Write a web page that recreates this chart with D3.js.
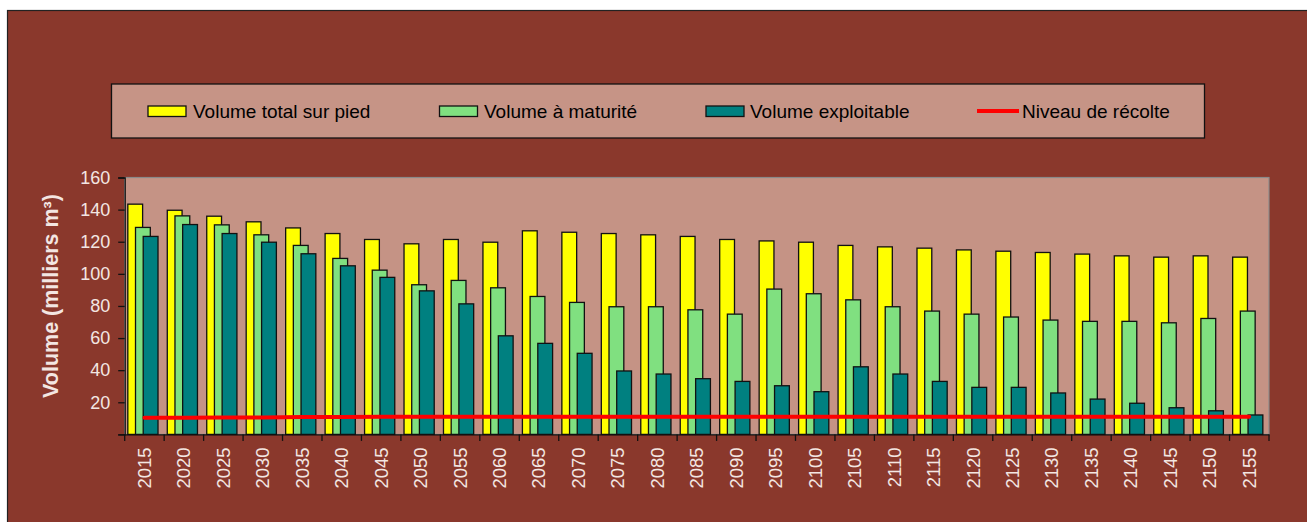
<!DOCTYPE html>
<html>
<head>
<meta charset="utf-8">
<script src="https://cdn.jsdelivr.net/npm/d3@7"></script>
<style>
  html, body { margin: 0; padding: 0; background: #ffffff; }
  svg { display: block; }
  text { font-family: "Liberation Sans", Arial, sans-serif; }
</style>
</head>
<body>
<script>
// ---- data ----
const years = ["2015","2020","2025","2030","2035","2040","2045","2050","2055","2060",
  "2065","2070","2075","2080","2085","2090","2095","2100","2105","2110",
  "2115","2120","2125","2130","2135","2140","2145","2150","2155"];
const volumeTotal = [143.4,139.6,135.9,132.4,128.6,125.1,121.4,118.7,121.4,119.7,
  126.8,125.9,125.1,124.3,123.3,121.4,120.5,119.7,117.7,116.8,
  116.0,114.9,114.1,113.3,112.3,111.2,110.4,111.2,110.4];
const volumeMaturite = [128.9,136.1,130.5,124.3,117.7,109.6,102.3,93.2,95.9,91.3,
  85.9,82.2,79.5,79.5,77.6,74.9,90.5,87.6,83.8,79.5,
  76.8,74.9,73.1,71.2,70.4,70.4,69.5,72.2,76.8];
const volumeExploitable = [123.3,130.7,125.1,119.7,112.5,105.0,97.8,89.4,81.3,61.4,
  56.7,50.5,39.5,37.6,34.7,33.0,30.3,26.6,42.1,37.6,
  33.0,29.3,29.3,25.8,22.0,19.4,16.6,14.7,12.1];
const niveauRecolte = [10.4,10.4,10.5,10.6,10.8,10.9,11.0,11.0,11.0,11.0,
  11.0,11.0,11.0,11.0,11.0,11.0,11.0,11.0,11.0,11.0,
  11.0,11.0,11.0,11.0,11.0,11.0,11.0,11.0,11.0];
const yTicks = [0,20,40,60,80,100,120,140,160];
const seriesNames = ["Volume total sur pied","Volume à maturité","Volume exploitable","Niveau de récolte"];
const seriesColors = ["#ffff00","#80e080","#008080","#ff0000"];

// ---- layout ----
const W = 1307, H = 522;
const plot = {left: 124.7, right: 1269, top: 177.5, bottom: 434.4};

const svg = d3.select("body").append("svg").attr("width", W).attr("height", H);

// chart background frame
svg.append("rect").attr("x", 7.5).attr("y", 10.5).attr("width", W).attr("height", H)
  .attr("fill", "#8a382c").attr("stroke", "#222").attr("stroke-width", 1.2);

// legend
const leg = svg.append("g");
leg.append("rect").attr("x", 111.5).attr("y", 84).attr("width", 1093).attr("height", 54)
  .attr("fill", "#c69486").attr("stroke", "#111").attr("stroke-width", 1.3);
const legX = [148, 439.5, 706, 977];
const legTextX = [193, 484, 750, 1022];
seriesNames.forEach((n, i) => {
  if (i < 3) {
    leg.append("rect").attr("x", legX[i]).attr("y", 106).attr("width", 38).attr("height", 10.5)
      .attr("fill", seriesColors[i]).attr("stroke", "#111").attr("stroke-width", 1.3);
  } else {
    leg.append("line").attr("x1", legX[i]).attr("x2", legX[i] + 42).attr("y1", 111).attr("y2", 111)
      .attr("stroke", seriesColors[i]).attr("stroke-width", 4);
  }
  leg.append("text").attr("x", legTextX[i]).attr("y", 117.5).attr("font-size", 19)
    .attr("fill", "#000").text(n);
});

// scales
const x = d3.scaleBand().domain(years).range([plot.left, plot.right]).paddingInner(0).paddingOuter(0);
const y = d3.scaleLinear().domain([0, 160]).range([plot.bottom, plot.top]);

// plot area
svg.append("rect").attr("x", plot.left).attr("y", plot.top)
  .attr("width", plot.right - plot.left).attr("height", plot.bottom - plot.top)
  .attr("fill", "#c59385").attr("stroke", "#8a8a8a").attr("stroke-width", 1.2);

// bars
const bw = x.bandwidth();
const barW = bw * 0.375, startOff = bw * 0.079, step = bw * 0.195;
const barSeries = [volumeTotal, volumeMaturite, volumeExploitable];
barSeries.forEach((vals, si) => {
  svg.append("g").selectAll("rect").data(vals).join("rect")
    .attr("x", (d, i) => x(years[i]) + startOff + si * step)
    .attr("y", d => y(d))
    .attr("width", barW)
    .attr("height", d => y(0) - y(d))
    .attr("fill", seriesColors[si])
    .attr("stroke", "#111").attr("stroke-width", 1.3);
});

// red line
const line = d3.line().x((d, i) => x(years[i]) + bw / 2).y(d => y(d));
svg.append("path").datum(niveauRecolte).attr("d", line)
  .attr("fill", "none").attr("stroke", "#ff0000").attr("stroke-width", 4).attr("stroke-linecap", "round");

// y axis
const yAxis = d3.axisLeft(y).tickValues(yTicks).tickSize(6.5).tickPadding(8)
  .tickFormat(d => d === 0 ? "" : d);
const gy = svg.append("g").attr("transform", `translate(${plot.left},0)`).call(yAxis);
gy.select(".domain").attr("stroke", "#111").attr("stroke-width", 1.3);
gy.selectAll(".tick line").attr("stroke", "#111").attr("stroke-width", 1.3);
gy.selectAll(".tick text").attr("fill", "#f3e6e2").attr("font-size", 18)
  .attr("font-family", "Liberation Sans, Arial, sans-serif");

// x axis
const xAxis = d3.axisBottom(x).tickSize(0).tickPadding(0);
const gx = svg.append("g").attr("transform", `translate(0,${plot.bottom})`).call(xAxis);
gx.select(".domain").attr("stroke", "#111").attr("stroke-width", 1.3);
gx.selectAll(".tick text")
  .attr("fill", "#f3e6e2").attr("font-size", 18.5)
  .attr("font-family", "Liberation Sans, Arial, sans-serif")
  .attr("text-anchor", "end").attr("dy", "0.35em")
  .attr("transform", "translate(0,13) rotate(-90)")
  .attr("x", 0).attr("y", 0);
// tick marks between categories
const boundaries = years.map(c => x(c)).concat([plot.right]);
svg.append("g").selectAll("line").data(boundaries).join("line")
  .attr("x1", d => d).attr("x2", d => d).attr("y1", plot.bottom).attr("y2", plot.bottom + 6.5)
  .attr("stroke", "#111").attr("stroke-width", 1.3);

// y title
svg.append("text").attr("transform", "translate(58,296) rotate(-90)")
  .attr("text-anchor", "middle").attr("font-size", 21.5).attr("font-weight", "bold")
  .attr("fill", "#f3e6e2").text("Volume (milliers m³)");
</script>
</body>
</html>
